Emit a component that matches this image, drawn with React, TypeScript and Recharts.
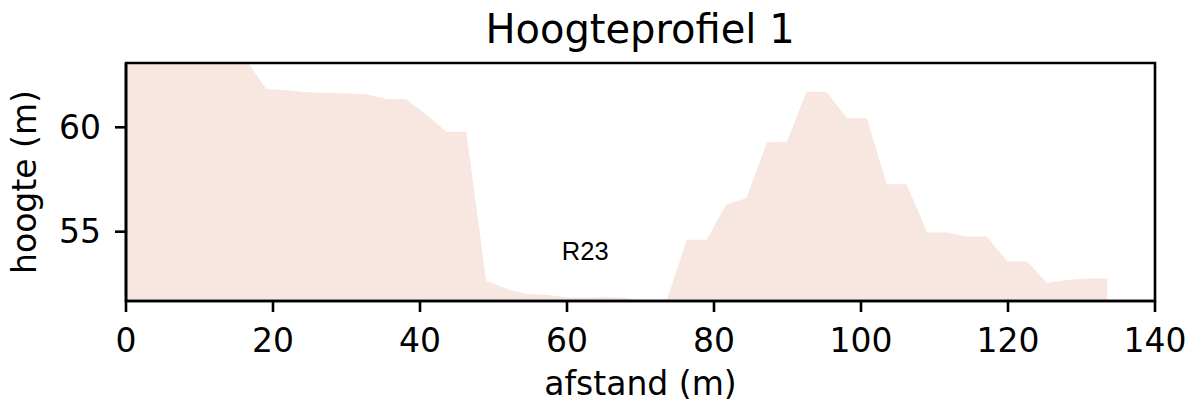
import React from "react";
import {
  AreaChart,
  Area,
  XAxis,
  YAxis,
  ReferenceArea,
  ReferenceDot,
} from "recharts";

// afstand (m) langs het profiel
const afstand = [
  0, 2.72, 5.45, 8.17, 10.9, 13.6, 16.3, 19.07, 21.8, 24.5, 27.2, 29.96, 32.7,
  35.4, 38.1, 40.9, 43.6, 46.3, 49.0, 51.8, 54.5, 57.2, 59.9, 62.7, 65.4, 68.1,
  70.8, 73.5, 76.3, 79.0, 81.7, 84.4, 87.2, 89.9, 92.6, 95.3, 98.1, 100.8,
  103.5, 106.2, 109.0, 111.7, 114.4, 117.1, 119.9, 122.6, 125.3, 128.0, 130.8,
  133.5,
];

// hoogte (m)
const hoogte = [
  63.4, 63.4, 63.4, 63.4, 63.3, 63.3, 63.25, 61.83, 61.78, 61.68, 61.65, 61.62,
  61.58, 61.35, 61.35, 60.59, 59.79, 59.79, 52.65, 52.25, 52.02, 51.98, 51.86,
  51.85, 51.88, 51.82, 51.65, 51.65, 54.61, 54.61, 56.32, 56.6, 59.28, 59.31,
  61.7, 61.7, 60.43, 60.43, 57.27, 57.27, 54.96, 54.96, 54.77, 54.77, 53.57,
  53.57, 52.54, 52.69, 52.76, 52.76,
];

const xTicks = [0, 20, 40, 60, 80, 100, 120, 140];
const yTicks = [55, 60];

const data = afstand.map((d, i) => ({ afstand: d, hoogte: hoogte[i] }));

const FONT = "DejaVu Sans";
const FILL = "#f8e6e0";
const Y_MIN = 51.68;
const Y_MAX = 63.08;

const tickStyle = { fill: "#000", fontSize: 33, fontFamily: FONT };

export default function App() {
  return (
    <div style={{ position: "absolute", left: 0, top: 0, width: 1195, height: 410, background: "#fff" }}>
      <svg width={1195} height={60} style={{ position: "absolute", left: 0, top: 0 }}>
        <text x={640} y={42.7} textAnchor="middle" fontFamily={FONT} fontSize={40} fill="#000">
          Hoogteprofiel 1
        </text>
      </svg>
      <AreaChart
        width={1195}
        height={410}
        data={data}
        margin={{ top: 63, right: 40, bottom: 0, left: 0 }}
      >
        <XAxis
          dataKey="afstand"
          type="number"
          domain={[0, 140]}
          ticks={xTicks}
          allowDataOverflow
          height={109}
          tick={tickStyle}
          tickSize={11}
          tickMargin={17}
          axisLine={{ stroke: "#000", strokeWidth: 2.6 }}
          tickLine={{ stroke: "#000", strokeWidth: 2.6 }}
          label={{
            value: "afstand (m)",
            position: "insideBottom",
            offset: 15,
            style: { fill: "#000", fontSize: 33, fontFamily: FONT },
          }}
        />
        <YAxis
          type="number"
          domain={[Y_MIN, Y_MAX]}
          ticks={yTicks}
          allowDataOverflow
          width={126}
          tick={tickStyle}
          tickSize={11}
          tickMargin={14}
          axisLine={{ stroke: "#000", strokeWidth: 2.6 }}
          tickLine={{ stroke: "#000", strokeWidth: 2.6 }}
          label={{
            value: "hoogte (m)",
            angle: -90,
            position: "insideLeft",
            offset: 24,
            style: { fill: "#000", fontSize: 33, fontFamily: FONT, textAnchor: "middle" },
          }}
        />
        <Area
          type="linear"
          dataKey="hoogte"
          stroke="none"
          fill={FILL}
          fillOpacity={1}
          isAnimationActive={false}
        />
        <ReferenceArea
          x1={0}
          x2={140}
          y1={Y_MIN}
          y2={Y_MAX}
          fill="none"
          stroke="#000"
          strokeWidth={2.6}
          ifOverflow="visible"
        />
        <ReferenceDot
          x={59.3}
          y={53.65}
          r={0}
          fill="none"
          stroke="none"
          label={(props: any) => (
            <text
              x={props.viewBox.x}
              y={props.viewBox.y}
              fontFamily="Liberation Sans"
              fontSize={25.5}
              fill="#000"
            >
              R23
            </text>
          )}
        />
      </AreaChart>
    </div>
  );
}
